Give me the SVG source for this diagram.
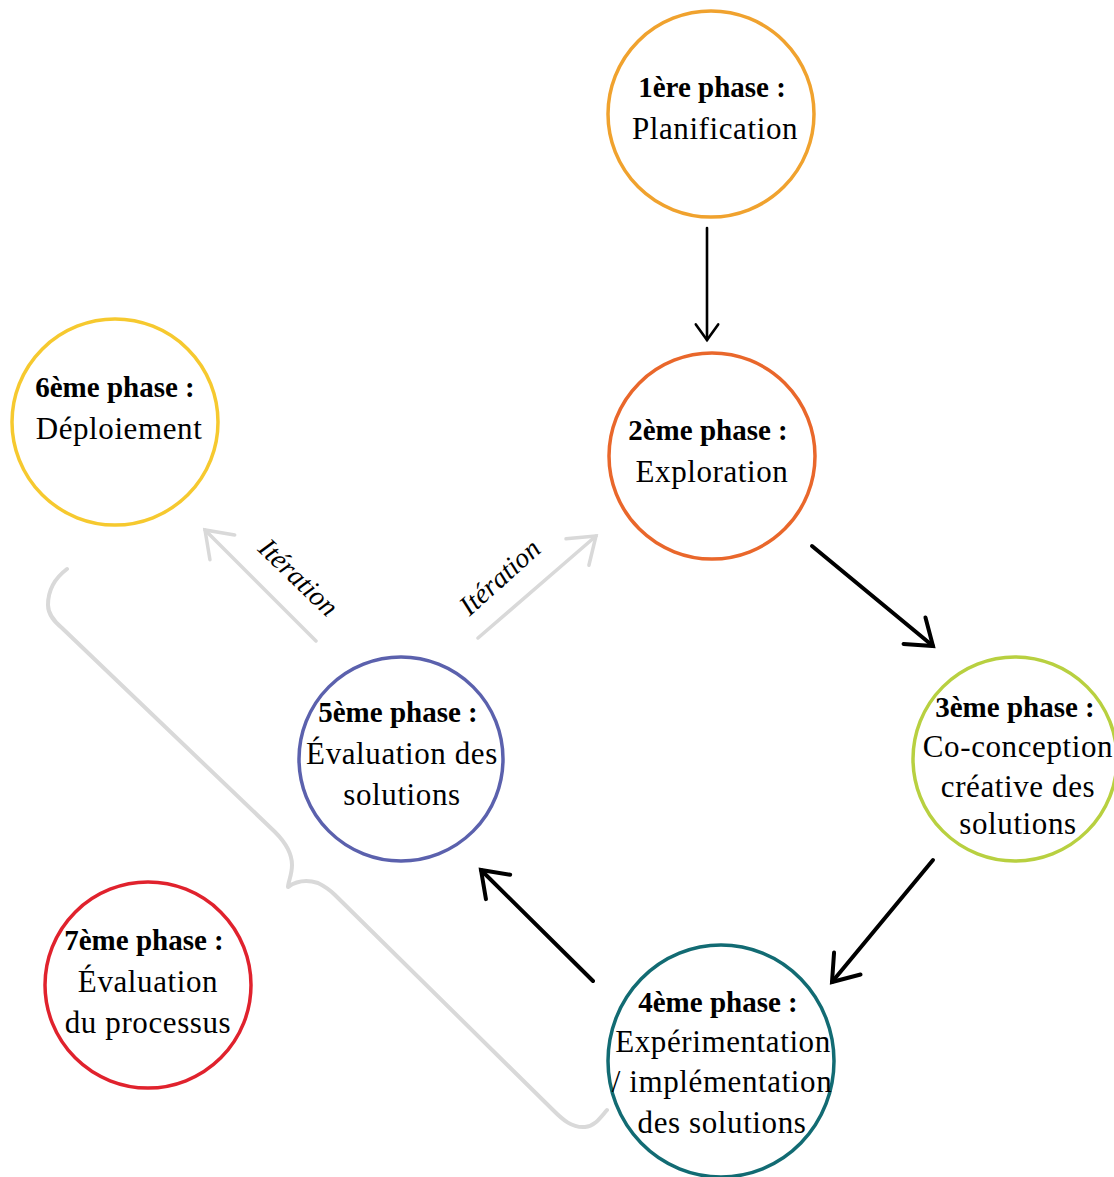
<svg xmlns="http://www.w3.org/2000/svg" width="1114" height="1177" viewBox="0 0 1114 1177">
<style>
.c{fill:#fff;stroke-width:3.5}
.b{font-family:"Liberation Serif",serif;font-weight:bold;font-size:29px;fill:#000;text-anchor:middle}
.r{font-family:"Liberation Serif",serif;font-size:31px;letter-spacing:0.6px;fill:#000;text-anchor:middle}
.it{font-family:"Liberation Serif",serif;font-style:italic;font-size:28px;fill:#000;text-anchor:middle}
.k{fill:none;stroke:#000;stroke-linecap:round}
.g{fill:none;stroke:#D9D9D9;stroke-linecap:round;stroke-linejoin:round}
</style>
<defs>
<marker id="ahk" markerUnits="strokeWidth" overflow="visible" orient="auto" refX="0" refY="0" markerWidth="10" markerHeight="10">
<path d="M-6,-4.3 L0,0 L-6,4.3" fill="none" stroke="#000" stroke-width="1" stroke-linecap="round" stroke-linejoin="miter"/>
</marker>
<marker id="ahg" markerUnits="strokeWidth" overflow="visible" orient="auto" refX="0" refY="0" markerWidth="10" markerHeight="10">
<path d="M-7,-5 L0,0 L-7,5" fill="none" stroke="#D9D9D9" stroke-width="1" stroke-linecap="round" stroke-linejoin="miter"/>
</marker>
</defs>
<rect width="1114" height="1177" fill="#fff"/>
<g id="connectors">
<path class="g" stroke-width="4" d="M67,569 C55,578 48,590 48,605 C48,615 55,622 62,628 L275,832 C285,842 292,852 292,865 C292,875 288,882 288,887 C295,882 305,879 318,883 C324,886 330,890 335,895 L553,1110 C563,1120 572,1128 585,1127 C595,1126 600,1118 607,1110"/>
<line class="k" stroke-width="2.6" x1="707" y1="228" x2="707" y2="340" marker-end="url(#ahk)"/>
<line class="k" stroke-width="4" x1="812" y1="546" x2="933" y2="646" marker-end="url(#ahk)"/>
<line class="k" stroke-width="4" x1="933" y1="860" x2="832" y2="982" marker-end="url(#ahk)"/>
<line class="k" stroke-width="4" x1="593" y1="981" x2="481" y2="870" marker-end="url(#ahk)"/>
<line class="g" stroke-width="3.5" x1="316" y1="641" x2="205" y2="530" marker-end="url(#ahg)"/>
<line class="g" stroke-width="3.5" x1="478" y1="638" x2="596" y2="536" marker-end="url(#ahg)"/>
<text class="it" transform="translate(292,584) rotate(44)">Itération</text>
<text class="it" transform="translate(506,584) rotate(-42)">Itération</text>
</g>
<g id="phase1">
<circle class="c" cx="711" cy="114" r="103" stroke="#F0A22E"/>
<text class="b" x="712" y="97">1ère phase :</text>
<text class="r" x="715" y="139">Planification</text>
</g>
<g id="phase2">
<circle class="c" cx="712" cy="456" r="103" stroke="#E9672B"/>
<text class="b" x="708" y="440">2ème phase :</text>
<text class="r" x="712" y="482">Exploration</text>
</g>
<g id="phase3">
<circle class="c" cx="1015" cy="759" r="102" stroke="#B8D040"/>
<text class="b" x="1015" y="717">3ème phase :</text>
<text class="r" x="1018" y="757">Co-conception</text>
<text class="r" x="1018" y="797">créative des</text>
<text class="r" x="1018" y="834">solutions</text>
</g>
<g id="phase4">
<ellipse class="c" cx="721" cy="1061" rx="113" ry="116" stroke="#126B73"/>
<text class="b" x="718" y="1012">4ème phase :</text>
<text class="r" x="723" y="1052">Expérimentation</text>
<text class="r" x="722" y="1092">/ implémentation</text>
<text class="r" x="722" y="1133">des solutions</text>
</g>
<g id="phase5">
<circle class="c" cx="401" cy="759" r="102" stroke="#5B61AD"/>
<text class="b" x="398" y="722">5ème phase :</text>
<text class="r" x="402" y="764">Évaluation des</text>
<text class="r" x="402" y="805">solutions</text>
</g>
<g id="phase6">
<circle class="c" cx="115" cy="422" r="103" stroke="#F6C92F"/>
<text class="b" x="115" y="397">6ème phase :</text>
<text class="r" x="119" y="439">Déploiement</text>
</g>
<g id="phase7">
<circle class="c" cx="148" cy="985" r="103" stroke="#E0222D"/>
<text class="b" x="144" y="950">7ème phase :</text>
<text class="r" x="148" y="992">Évaluation</text>
<text class="r" x="148" y="1033">du processus</text>
</g>
</svg>
